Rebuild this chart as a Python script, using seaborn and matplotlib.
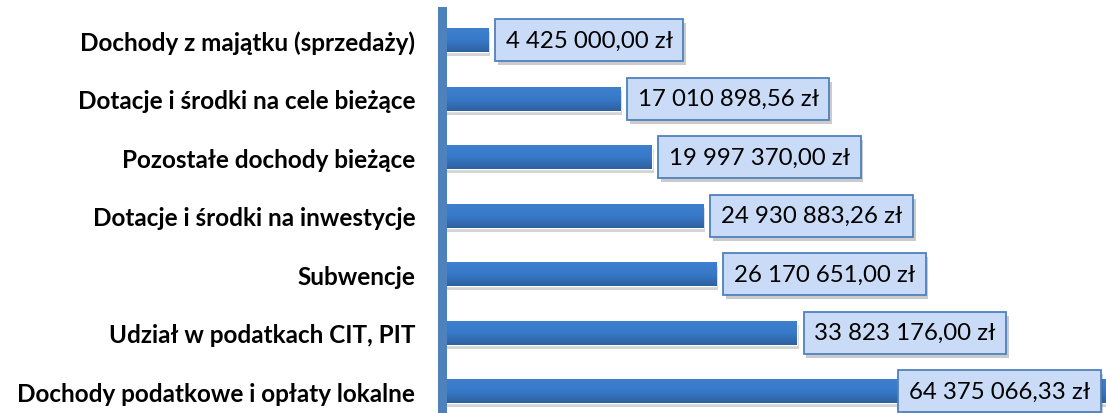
import numpy as np
import pandas as pd
import matplotlib
matplotlib.use("Agg")
import matplotlib.pyplot as plt
import matplotlib.patheffects as pe
from matplotlib.colors import LinearSegmentedColormap
import seaborn as sns

categories = [
    "Dochody z majątku (sprzedaży)",
    "Dotacje i środki na cele bieżące",
    "Pozostałe dochody bieżące",
    "Dotacje i środki na inwestycje",
    "Subwencje",
    "Udział w podatkach CIT, PIT",
    "Dochody podatkowe i opłaty lokalne",
]
values = [
    4425000.00,
    17010898.56,
    19997370.00,
    24930883.26,
    26170651.00,
    33823176.00,
    64375066.33,
]

sns.set_style("white")
plt.rcParams["font.family"] = ["Lato", "DejaVu Sans"]


def fmt_pln(v):
    whole, frac = f"{v:,.2f}".split(".")
    return whole.replace(",", " ") + "," + frac + " zł"


df = pd.DataFrame({"kategoria": categories, "kwota": values})

fig = plt.figure(figsize=(11.06, 4.14), dpi=100)
ax = fig.add_axes([0.3993, -0.018, 0.6007, 0.989])

sns.barplot(data=df, x="kwota", y="kategoria", color="#3470BC",
            width=0.41, saturation=1, ax=ax, zorder=2)

xmax = 63.3e6

# gradient + shadow on the bars
cmap = LinearSegmentedColormap.from_list("bar", ["#3E7FCE", "#3878C8", "#2D619F"])
grad = np.linspace(0, 1, 64).reshape(-1, 1)
for patch in ax.patches:
    x0, y0 = patch.get_x(), patch.get_y()
    w, h = patch.get_width(), patch.get_height()
    patch.set_path_effects([pe.SimplePatchShadow(offset=(1.5, -3), alpha=0.25,
                                                 shadow_rgbFace="#555555"),
                            pe.Normal()])
    im = ax.imshow(grad, extent=(x0, x0 + w, y0 + h, y0), origin="upper",
                   aspect="auto", cmap=cmap, zorder=3)
    im.set_clip_path(patch)
ax.set_xlim(0, xmax)
ax.set_ylim(6.5, -0.5)

# value labels
box = dict(boxstyle="square,pad=0.44", fc="#C9DBF6", ec="#4F81BD", lw=1.3)
for i, v in enumerate(values):
    txt = fmt_pln(v)
    if v > xmax * 0.8:
        t = ax.annotate(txt, xy=(xmax, i), xytext=(-11.5, 0),
                        textcoords="offset points", ha="right", va="center",
                        fontsize=17.3, color="black", zorder=6, bbox=box)
    else:
        t = ax.annotate(txt, xy=(v, i), xytext=(12.6, 0),
                        textcoords="offset points", ha="left", va="center",
                        fontsize=17.3, color="black", zorder=6, bbox=box)
    t.get_bbox_patch().set_path_effects([
        pe.SimplePatchShadow(offset=(2, -3), alpha=0.3, shadow_rgbFace="#555555"),
        pe.Normal()])

ax.set_xlabel("")
ax.set_ylabel("")
ax.set_xticks([])
ax.tick_params(axis="y", length=0, pad=19)
for lab in ax.get_yticklabels():
    lab.set_fontsize(17.5)
    lab.set_fontweight("bold")
    lab.set_color("black")

for side in ["top", "right", "bottom"]:
    ax.spines[side].set_visible(False)
ax.spines["left"].set_color("#4F81BD")
ax.spines["left"].set_linewidth(6.5)
ax.spines["left"].set_zorder(5)

fig.savefig("out.png", dpi=100)
